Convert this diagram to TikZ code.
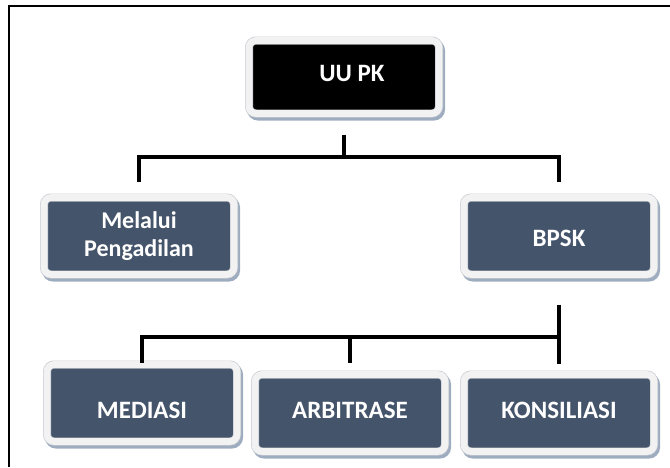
\documentclass[tikz,border=0pt]{standalone}
\usepackage{fontspec}
\setmainfont{Carlito}
\definecolor{boxfill}{HTML}{44546A}
\definecolor{boxrim}{HTML}{F2F2F2}
\definecolor{rimedge}{HTML}{C8CCD2}
\definecolor{boxshade}{HTML}{9EACC0}
\newcommand{\nudgetext}[2]{\raisebox{#1}[\height][\depth]{#2}}

\begin{document}
\begin{tikzpicture}[x=1pt, y=-1pt,
    box/.style={rounded corners=7pt, fill=boxfill, draw=rimedge, line width=0.7pt,
        double=boxrim, double distance=6.6pt, outer sep=0pt, inner sep=0pt,
        minimum width=190pt, minimum height=77pt, align=center, text=white,
        font=\bfseries\fontsize{25}{28}\selectfont,
        preaction={draw=boxshade, fill=boxshade, line width=8pt,
            transform canvas={shift={(2pt,-3pt)}}}},
    conn/.style={line width=4.5pt, line join=miter}]
    % frame of the page
    \useasboundingbox (0,0) rectangle (670,467);
    \draw[line width=2pt] (9,467) -- (9,6) -- (670,6);

    % boxes
    \node[box, minimum height=73pt, fill=black] (uupk) at (344,77) {\hspace*{16pt}\nudgetext{4pt}{UU PK}};
    \node[box, font=\bfseries\fontsize{24}{28}\selectfont] (melalui) at (139,236) {Melalui\\Pengadilan};
    \node[box] (bpsk) at (559,236) {\nudgetext{-2pt}{BPSK}};
    \node[box] (mediasi) at (142,403) {\nudgetext{-7pt}{MEDIASI}};
    \node[box] (arbitrase) at (350,413) {\nudgetext{3pt}{ARBITRASE}};
    \node[box] (konsiliasi) at (559,413) {\nudgetext{3pt}{KONSILIASI}};

    % draw the connectors
    \coordinate (topbus) at (344,157);
    \coordinate (lowbus) at (559,337);
    \draw[conn, shorten <=21pt] (uupk.south) -- (topbus);
    \draw[conn, shorten <=16pt, shorten >=16pt] (melalui.north) |- (topbus) -| (bpsk.north);
    \draw[conn, shorten <=30pt, shorten >=11pt] (bpsk.south) -- (konsiliasi.north);
    \draw[conn, shorten <=2pt] (mediasi.north) |- (lowbus);
    \draw[conn, shorten >=12pt] (lowbus -| arbitrase.north) -- (arbitrase.north);
\end{tikzpicture}
\end{document}
